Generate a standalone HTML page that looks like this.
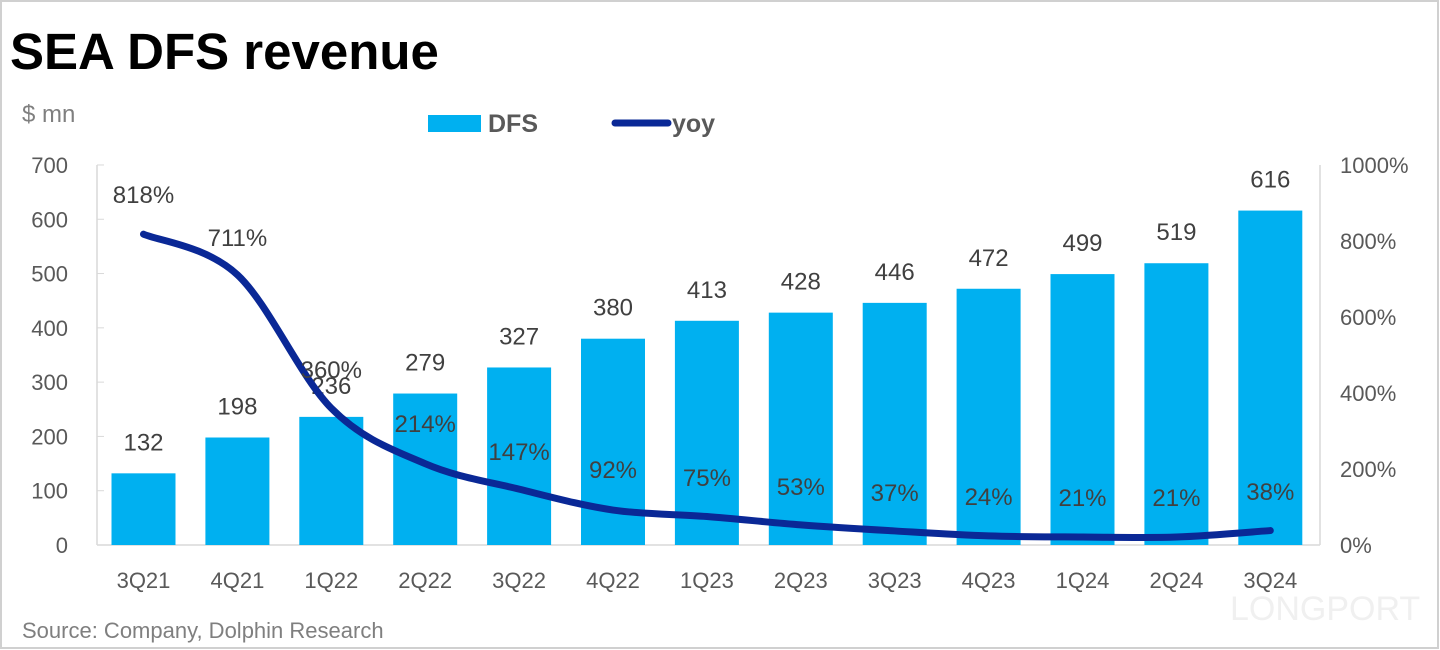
<!DOCTYPE html>
<html><head><meta charset="utf-8"><style>
html,body{margin:0;padding:0;background:#fff;}
#c{position:relative;width:1440px;height:650px;overflow:hidden;font-family:"Segoe UI","Liberation Sans","Noto Sans CJK SC",sans-serif;}
</style></head><body><div id="c">
<svg id="s" width="1440" height="650" xmlns="http://www.w3.org/2000/svg" style="position:absolute;left:0;top:0">
<rect x="1" y="1" width="1437" height="647" fill="#fff" stroke="#d0d0d0" stroke-width="2"/>
<text x="10" y="69" font-size="51" font-weight="bold" fill="#000" font-family="Liberation Sans, sans-serif">SEA DFS revenue</text>
<text x="22" y="122" font-size="24" fill="#7f7f7f">$ mn</text>
<rect x="428" y="115" width="53" height="17" fill="#00B0F0"/>
<text x="488" y="132" font-size="25" font-weight="bold" fill="#595959">DFS</text>
<line x1="615" y1="123" x2="668" y2="123" stroke="#0A2896" stroke-width="7" stroke-linecap="round"/>
<text x="672" y="132" font-size="25" font-weight="bold" fill="#595959">yoy</text>
<line x1="97" y1="165" x2="97" y2="545" stroke="#d9d9d9" stroke-width="1.5"/>
<line x1="1320" y1="165" x2="1320" y2="545" stroke="#d9d9d9" stroke-width="1.5"/>
<line x1="97" y1="545" x2="1320" y2="545" stroke="#d9d9d9" stroke-width="1.5"/>
<g id="g"></g>
<text x="22" y="638" font-size="22" fill="#7f7f7f">Source: Company, Dolphin Research</text>
<text x="1230" y="620" font-size="34" fill="#f0f0f0">LONGPORT</text>
</svg>
<script>
var g=document.getElementById('g'),h='';
var q=['3Q21','4Q21','1Q22','2Q22','3Q22','4Q22','1Q23','2Q23','3Q23','4Q23','1Q24','2Q24','3Q24'];
var b=[132,198,236,279,327,380,413,428,446,472,499,519,616];
var y=[818,711,360,214,147,92,75,53,37,24,21,21,38];
var ly=[195,238,370,424,452,470,478,487,493,497,498,498,492];
function X(i){return 143.5+i*93.9;}
for(var i=0;i<=7;i++){var yy=545-i*54.29;h+='<line x1="97" y1="'+yy+'" x2="104" y2="'+yy+'" stroke="#d9d9d9"/>';
h+='<text x="68" y="'+(yy+8)+'" font-size="22" fill="#595959" text-anchor="end">'+(i*100)+'</text>';}
for(var i=0;i<=5;i++){var yy=545-i*76;h+='<text x="1340" y="'+(yy+8)+'" font-size="22" fill="#595959">'+(i*200)+'%</text>';}
var P=[];
for(var i=0;i<13;i++){var x=X(i),t=545-b[i]*0.5429;
h+='<rect x="'+(x-32)+'" y="'+t+'" width="64" height="'+(545-t)+'" fill="#00B0F0"/>';
h+='<text x="'+x+'" y="'+(t-23)+'" font-size="24" fill="#404040" text-anchor="middle">'+b[i]+'</text>';
h+='<text x="'+x+'" y="588" font-size="22" fill="#595959" text-anchor="middle">'+q[i]+'</text>';
P.push([x,545-y[i]*0.38]);}
var d='M'+P[0][0]+','+P[0][1];
for(var i=0;i<12;i++){var p0=P[Math.max(i-1,0)],p1=P[i],p2=P[i+1],p3=P[Math.min(i+2,12)];
d+=' C'+(p1[0]+(p2[0]-p0[0])/6)+','+(p1[1]+(p2[1]-p0[1])/6)+' '+(p2[0]-(p3[0]-p1[0])/6)+','+(p2[1]-(p3[1]-p1[1])/6)+' '+p2[0]+','+p2[1];}
h+='<path d="'+d+'" fill="none" stroke="#0A2896" stroke-width="7" stroke-linecap="round"/>';
for(var i=0;i<13;i++)h+='<text x="'+X(i)+'" y="'+(ly[i]+8)+'" font-size="24" fill="#404040" text-anchor="middle">'+y[i]+'%</text>';
g.innerHTML=h;
</script>
</div></body></html>
